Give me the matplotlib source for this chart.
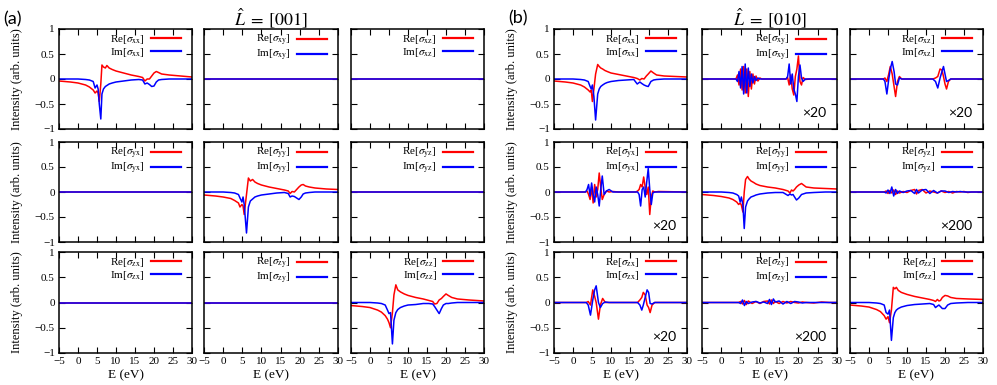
import matplotlib
matplotlib.use('Agg')
import matplotlib.pyplot as plt

plt.rcParams['font.family'] = 'Liberation Serif'
plt.rcParams['mathtext.fontset'] = 'stix'

# ---- data (E in eV, intensity in arb. units) ----
E_flat = [-5, 30]
zero = [0, 0]

E_a_xx = [-5, -2, 0, 2, 3, 4, 4.5, 5.0, 5.3, 5.6, 6.0, 6.3, 6.7, 7.2, 7.6, 8.2, 9, 10, 12, 14, 16, 17,
          17.6, 18.2, 18.8, 19.4, 20.0, 20.6, 21.2, 22, 24, 27, 30]
re_a_xx = [-0.04, -0.06, -0.08, -0.12, -0.16, -0.22, -0.28, -0.24, -0.28, -0.45, -0.10, 0.28, 0.24, 0.22,
           0.27, 0.22, 0.19, 0.16, 0.12, 0.08, 0.05, 0.03, -0.04, 0.0, 0.0, 0.06, 0.12, 0.15, 0.13, 0.10,
           0.08, 0.06, 0.04]
im_a_xx = [0, 0, 0, -0.01, -0.02, -0.05, -0.18, -0.12, -0.2, -0.5, -0.8, -0.3, -0.2, -0.15, -0.13, -0.10,
           -0.08, -0.06, -0.04, -0.02, -0.01, -0.02, -0.10, -0.08, -0.11, -0.15, -0.14, -0.06, -0.02, -0.01,
           0, 0, 0]

E_a_yy = [-5, -2, 0, 2, 3, 4, 4.4, 4.9, 5.2, 5.5, 6.1, 6.6, 7.1, 7.7, 8.3, 9, 10, 12, 14, 16, 17, 17.5,
          18.0, 18.6, 19.2, 19.8, 20.4, 20.9, 21.5, 22.5, 24, 27, 30]
re_a_yy = [-0.06, -0.08, -0.1, -0.13, -0.17, -0.22, -0.3, -0.25, -0.28, -0.45, -0.05, 0.28, 0.22, 0.25,
           0.2, 0.17, 0.14, 0.1, 0.07, 0.04, 0.02, -0.03, 0.01, 0.0, 0.05, 0.1, 0.14, 0.15, 0.12, 0.1,
           0.08, 0.06, 0.05]
im_a_yy = [0, 0, 0, -0.01, -0.02, -0.05, -0.12, -0.2, -0.1, -0.25, -0.82, -0.3, -0.18, -0.14, -0.1, -0.08,
           -0.06, -0.04, -0.02, -0.01, -0.03, -0.1, -0.08, -0.09, -0.12, -0.15, -0.1, -0.04, -0.02, -0.01,
           0, 0, 0]

E_a_zz = [-5, -2, 0, 2, 3, 4, 4.6, 5.0, 5.4, 5.9, 6.3, 6.8, 7.3, 8, 9, 10, 12, 14, 15.5, 16.5, 17, 17.6,
          18.2, 18.8, 19.3, 20, 20.6, 21.5, 23, 26, 30]
re_a_zz = [-0.06, -0.08, -0.1, -0.15, -0.19, -0.26, -0.33, -0.4, -0.5, -0.2, 0.15, 0.35, 0.25, 0.21, 0.17,
           0.14, 0.1, 0.07, 0.04, 0.02, -0.03, -0.02, 0.05, 0.08, 0.12, 0.17, 0.14, 0.1, 0.07, 0.05, 0.03]
im_a_zz = [0, 0, 0, -0.01, -0.02, -0.05, -0.15, -0.22, -0.2, -0.82, -0.35, -0.2, -0.14, -0.1, -0.07, -0.05,
           -0.04, -0.02, -0.02, -0.03, -0.08, -0.15, -0.22, -0.12, -0.05, -0.02, -0.02, -0.01, 0, 0, 0]

E_b_xx = [-5, -2, 0, 2, 3, 4, 4.5, 4.8, 5.1, 5.5, 5.95, 6.5, 6.9, 7.3, 7.8, 8.4, 9, 10, 12, 14, 16, 16.9,
          17.6, 18.1, 18.7, 19.3, 19.8, 20.5, 21.2, 22, 24, 27, 30]
re_b_xx = [-0.04, -0.06, -0.08, -0.12, -0.16, -0.22, -0.26, -0.22, -0.45, -0.2, 0.1, 0.29, 0.25, 0.22,
           0.2, 0.17, 0.15, 0.12, 0.09, 0.06, 0.03, 0.01, -0.02, 0.01, 0.0, 0.06, 0.1, 0.16, 0.12, 0.08,
           0.06, 0.05, 0.04]
im_b_xx = [0, 0, 0, -0.01, -0.02, -0.05, -0.15, -0.2, -0.12, -0.35, -0.82, -0.3, -0.2, -0.15, -0.12,
           -0.09, -0.07, -0.05, -0.03, -0.02, -0.01, -0.1, -0.06, -0.09, -0.12, -0.14, -0.15, -0.05, -0.02,
           -0.01, 0, 0, 0]

E_b_yy = [-5, -2, 0, 2, 3, 4, 4.5, 4.9, 5.2, 5.6, 5.95, 6.3, 6.8, 7.2, 7.7, 8.4, 9, 10, 12, 14, 16, 17.3,
          17.8, 18.2, 18.6, 19.0, 19.5, 20.1, 20.8, 22, 24, 27, 30]
re_b_yy = [-0.05, -0.07, -0.09, -0.12, -0.15, -0.2, -0.25, -0.22, -0.26, -0.4, 0.0, 0.25, 0.31, 0.26, 0.22,
           0.19, 0.16, 0.13, 0.1, 0.08, 0.05, 0.02, -0.02, 0.04, 0.02, 0.05, 0.1, 0.14, 0.17, 0.1, 0.08,
           0.07, 0.06]
im_b_yy = [0, 0, 0, -0.01, -0.02, -0.05, -0.08, -0.2, -0.1, -0.25, -0.73, -0.3, -0.18, -0.14, -0.1, -0.08,
           -0.06, -0.04, -0.02, -0.01, -0.01, -0.07, -0.04, -0.06, -0.05, -0.1, -0.16, -0.12, -0.05, -0.02,
           -0.01, 0, 0]

E_b_zz = [-5, -2, 0, 2, 3, 4, 4.5, 5.0, 5.4, 5.9, 6.4, 6.8, 7.2, 7.7, 8.5, 10, 12, 14, 16, 17, 17.5, 18.0,
          18.4, 18.8, 19.3, 20.0, 20.7, 21.5, 23, 26, 30]
re_b_zz = [-0.05, -0.07, -0.09, -0.14, -0.18, -0.26, -0.33, -0.28, -0.4, -0.15, 0.3, 0.27, 0.3, 0.24, 0.2,
           0.16, 0.12, 0.09, 0.06, 0.04, 0.02, 0.06, 0.03, 0.04, 0.1, 0.14, 0.13, 0.1, 0.08, 0.07, 0.06]
im_b_zz = [0, 0, 0, -0.01, -0.02, -0.05, -0.2, -0.23, -0.15, -0.75, -0.3, -0.2, -0.15, -0.12, -0.09,
           -0.06, -0.04, -0.03, -0.02, -0.04, -0.1, -0.07, -0.05, -0.08, -0.12, -0.12, -0.05, -0.02, -0.01,
           0, 0]

# off-diagonal terms of (b), already multiplied by the factor printed in the panel
E_b_xy = [-5, 3.8, 4.2, 4.6, 5.0, 5.4, 5.8, 6.2, 6.6, 7.0, 7.4, 7.8, 8.2, 8.6, 9.0, 9.5, 10, 10.5, 16.8,
          17.2, 17.6, 18.0, 18.4, 18.8, 19.2, 19.6, 20.0, 20.4, 20.8, 21.2, 21.8, 23, 30]
re_b_xy = [0, 0, 0.08, -0.12, 0.2, -0.22, 0.25, -0.28, 0.2, -0.35, 0.15, -0.2, 0.1, -0.1, 0.06, -0.04,
           0.02, 0, 0, 0.03, -0.12, 0.08, -0.2, -0.32, 0.05, 0.2, 0.46, -0.05, -0.12, 0.03, -0.01, 0, 0]
im_b_xy = [0, 0, -0.05, 0.15, -0.18, 0.25, -0.3, 0.3, -0.28, 0.22, -0.15, 0.1, -0.08, 0.05, -0.03, 0.02,
           0, 0, 0, 0.05, 0.3, -0.1, 0.1, -0.2, -0.3, -0.45, 0.05, 0.28, 0.02, -0.05, 0, 0, 0]

E_b_xz = [-5, 3.8, 4.2, 4.7, 5.2, 5.6, 6.1, 6.6, 7.0, 7.5, 8.0, 8.6, 9.5, 16.8, 17.5, 18.1, 18.7, 19.2,
          19.6, 20.0, 20.4, 20.9, 21.5, 30]
re_b_xz = [0, 0, 0.02, -0.05, 0.1, 0.25, 0.1, -0.15, -0.35, -0.05, 0.05, 0, 0, 0, 0.02, 0.05, 0.2, 0.18,
           0.05, -0.1, -0.2, -0.05, 0, 0]
im_b_xz = [0, 0, -0.05, -0.3, 0.0, 0.2, 0.35, 0.15, -0.1, -0.12, 0.02, 0, 0, 0, -0.05, -0.18, 0.02, 0.15,
           0.25, 0.1, -0.05, -0.03, 0, 0]

E_b_yx = [-5, 3.3, 3.7, 4.1, 4.5, 4.9, 5.3, 5.7, 6.1, 6.5, 6.9, 7.3, 7.7, 8.2, 8.8, 9.5, 10.5, 12, 16.5,
          17.0, 17.4, 17.8, 18.2, 18.6, 19.0, 19.4, 19.8, 20.2, 20.6, 21.0, 21.5, 22.5, 30]
re_b_yx = [0, 0, 0.02, -0.05, -0.15, 0.1, -0.22, 0.15, -0.1, 0.05, 0.38, 0.1, -0.15, -0.05, 0.02, 0, 0.01,
           0, 0, 0.02, 0.05, 0.15, 0.1, 0.3, 0.1, -0.05, 0.1, -0.45, -0.1, 0.02, 0, 0.01, 0]
im_b_yx = [0, 0, 0.05, 0.15, -0.08, 0.18, -0.05, -0.2, 0.1, -0.05, -0.28, 0.05, 0.32, -0.05, 0.02, 0.05,
           0, 0, 0, 0, -0.05, -0.28, 0.05, 0.1, -0.1, 0.2, 0.47, 0.05, -0.25, -0.02, 0, 0, 0]

E_b_yz = [-5, 4, 4.5, 5, 5.5, 6, 6.5, 7, 7.5, 8, 9, 10, 11, 12, 12.5, 13, 14, 15, 16, 17, 18, 19, 20, 21,
          22, 23, 24, 25, 26, 27, 28, 30]
re_b_yz = [0, 0, 0.02, -0.03, 0.03, -0.02, 0.04, -0.05, 0.02, -0.02, 0.01, -0.01, 0.03, 0.05, -0.04, 0.03,
           0.05, -0.02, 0.02, 0.0, -0.02, 0.02, -0.01, 0.01, -0.02, 0.01, 0.0, 0.01, -0.01, 0.0, 0.0, 0]
im_b_yz = [0, 0, -0.02, 0.04, -0.03, 0.1, -0.08, 0.05, -0.03, 0.02, -0.01, 0.02, 0.03, -0.03, 0.05, -0.02,
           0.04, 0.05, -0.03, 0.03, -0.02, 0.02, 0.02, -0.01, 0.01, 0, 0.01, 0, 0, 0, 0, 0]

E_b_zx = [-5, 3.5, 4.0, 4.6, 5.2, 5.7, 6.1, 6.7, 7.2, 7.8, 8.5, 9.5, 17.0, 17.6, 18.1, 18.5, 19.0, 19.5,
          19.9, 20.3, 20.8, 21.5, 30]
re_b_zx = [0, 0, 0.02, -0.05, 0.25, 0.12, 0.0, -0.33, -0.05, 0.08, 0.0, 0, 0, 0.05, 0.1, 0.2, 0.15, -0.05,
           -0.1, -0.2, -0.05, 0, 0]
im_b_zx = [0, 0, -0.05, -0.25, 0.05, 0.25, 0.33, 0.0, -0.1, -0.02, 0.01, 0, 0, -0.05, -0.15, -0.05, 0.1,
           0.25, 0.2, -0.02, -0.03, 0, 0]

E_b_zy = [-5, 4.5, 5, 5.5, 6, 6.5, 7, 8, 9, 10, 11, 12, 12.5, 13, 13.5, 14, 15, 16, 17, 18, 19, 20, 21,
          22, 24, 26, 28, 30]
re_b_zy = [0, 0, 0.02, -0.03, 0.04, -0.04, 0.03, -0.02, 0.02, -0.02, 0.02, 0.03, -0.03, 0.05, -0.02, 0.02,
           -0.02, 0.02, -0.01, 0.02, 0, -0.01, 0.01, 0, -0.01, 0.01, 0, 0]
im_b_zy = [0, 0, -0.02, 0.05, -0.06, 0.02, -0.02, 0.01, 0.02, -0.01, 0.01, -0.02, 0.06, -0.04, 0.07, 0.01,
           0.03, -0.03, 0.02, -0.02, 0.02, 0.01, -0.01, 0, 0, 0, 0, 0]

comps = [['xx', 'xy', 'xz'], ['yx', 'yy', 'yz'], ['zx', 'zy', 'zz']]
x_ticks = [-5, 0, 5, 10, 15, 20, 25, 30]
x_tick_labels = ['\u22125', '0', '5', '10', '15', '20', '25', '30']
y_ticks = [-1, -0.5, 0, 0.5, 1]
y_tick_labels = ['\u22121', '\u22120.5', '0', '0.5', '1']

data_a = {
    'xx': (E_a_xx, re_a_xx, im_a_xx), 'xy': (E_flat, zero, zero), 'xz': (E_flat, zero, zero),
    'yx': (E_flat, zero, zero), 'yy': (E_a_yy, re_a_yy, im_a_yy), 'yz': (E_flat, zero, zero),
    'zx': (E_flat, zero, zero), 'zy': (E_flat, zero, zero), 'zz': (E_a_zz, re_a_zz, im_a_zz),
}
data_b = {
    'xx': (E_b_xx, re_b_xx, im_b_xx), 'xy': (E_b_xy, re_b_xy, im_b_xy), 'xz': (E_b_xz, re_b_xz, im_b_xz),
    'yx': (E_b_yx, re_b_yx, im_b_yx), 'yy': (E_b_yy, re_b_yy, im_b_yy), 'yz': (E_b_yz, re_b_yz, im_b_yz),
    'zx': (E_b_zx, re_b_zx, im_b_zx), 'zy': (E_b_zy, re_b_zy, im_b_zy), 'zz': (E_b_zz, re_b_zz, im_b_zz),
}
factor_b = {'xy': '×20', 'xz': '×20', 'yx': '×20', 'yz': '×200', 'zx': '×20', 'zy': '×200'}

# ---- layout (pixels) ----
W, H = 997, 385
cols_a = [(59, 192), (204, 338), (351, 484)]
cols_b = [(554, 687), (702, 837), (850, 983)]
rows = [(29, 129), (142, 242), (252, 353)]

fig = plt.figure(figsize=(W / 100, H / 100), dpi=100)


def panel(x0, x1, y0, y1, comp, E, re, im, bottom_row, left_col, note=None):
    ax = fig.add_axes([x0 / W, 1 - y1 / H, (x1 - x0) / W, (y1 - y0) / H])
    ax.plot(E, re, color='#ff0000', lw=1.1, label=r'Re[$\sigma_{\rm %s}$]' % comp)
    ax.plot(E, im, color='#0000ff', lw=1.1, label=r'Im[$\sigma_{\rm %s}$]' % comp)
    ax.set_xlim(-5, 30)
    ax.set_ylim(-1, 1)
    ax.set_xticks(x_ticks)
    ax.set_yticks(y_ticks)
    ax.tick_params(direction='in', top=True, right=True, length=4, width=0.8,
                   labelsize=8, pad=3)
    if bottom_row:
        ax.set_xticklabels(x_tick_labels)
        ax.set_xlabel('E (eV)', fontsize=9.5)
        ax.xaxis.set_label_coords(0.5, -0.16)
    else:
        ax.set_xticklabels([])
    if left_col:
        ax.set_yticklabels(y_tick_labels)
        ax.set_ylabel('Intensity (arb. units)', fontsize=9)
        ax.yaxis.set_label_coords(-0.27, 0.5)
    else:
        ax.set_yticklabels([])
    for s in ax.spines.values():
        s.set_linewidth(1.1)
    leg = ax.legend(loc='upper right', bbox_to_anchor=(0.92, 0.96), borderaxespad=0, borderpad=0,
                    frameon=False, markerfirst=False, fontsize=8, handlelength=2.7,
                    handletextpad=0.6, labelspacing=0.0)
    for ln in leg.get_lines():
        ln.set_linewidth(1.6)
    if note:
        ax.text(0.92, 0.16, note, transform=ax.transAxes, ha='right', va='center',
                fontsize=10, family='Lato')
    return ax


for r, (y0, y1) in enumerate(rows):
    for c in range(3):
        comp = comps[r][c]
        E, re, im = data_a[comp]
        panel(cols_a[c][0], cols_a[c][1], y0, y1, comp, E, re, im, r == 2, c == 0)
        E, re, im = data_b[comp]
        panel(cols_b[c][0], cols_b[c][1], y0, y1, comp, E, re, im, r == 2, c == 0,
              factor_b.get(comp))

fig.text(3 / W, 1 - 19 / H, '(a)', fontsize=13, family='Lato', va='center')
fig.text(508 / W, 1 - 18 / H, '(b)', fontsize=13, family='Lato', va='center')
fig.text(271 / W, 1 - 18 / H, r'$\hat{L}\;=\;[001]$', fontsize=13, ha='center', va='center')
fig.text(770 / W, 1 - 18 / H, r'$\hat{L}\;=\;[010]$', fontsize=13, ha='center', va='center')

fig.savefig('out.png', dpi=100)
